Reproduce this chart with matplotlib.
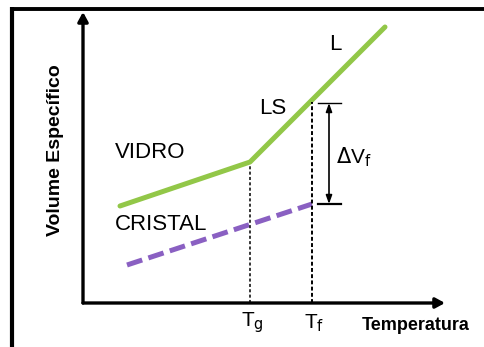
import numpy as np
import matplotlib
matplotlib.use("Agg")
import matplotlib.pyplot as plt

plt.rcParams['font.family'] = ['Liberation Sans', 'DejaVu Sans']

# Schematic specific volume vs temperature (arbitrary units)
T_vidro = [37, 167, 302]      # glass branch, kink at Tg, liquid beyond
V_vidro = [97, 141, 276]
T_cristal = [44, 229]         # crystal branch up to Tf
V_cristal = [38, 99]
Tg = 167
Tf = 229

green = '#92c748'
purple = '#8a60c2'

W, H = 485, 347
fig = plt.figure(figsize=(W / 100, H / 100), dpi=100)

# outer frame (top and left edges)
frame = fig.add_axes([0, 0, 1, 1])
frame.set_xlim(0, W)
frame.set_ylim(H, 0)
frame.axis('off')
frame.plot([12, W], [8.5, 8.5], color='black', lw=2.8, solid_capstyle='butt')
frame.plot([12, 12], [7, H], color='black', lw=3.0, solid_capstyle='butt')

# main axes: origin at pixel (83, 303), extends to (445, 12)
x0, y0, x1, y1 = 83, 303, 445, 12
ax = fig.add_axes([x0 / W, (H - y0) / H, (x1 - x0) / W, (y0 - y1) / H])
ax.set_xlim(0, x1 - x0)
ax.set_ylim(0, y0 - y1)
ax.axis('off')

# axis arrows
arrow_kw = dict(arrowstyle='-|>,head_length=0.55,head_width=0.3', color='black', lw=2.4,
                shrinkA=0, shrinkB=0)
ax.annotate('', xy=(1, 0), xycoords='axes fraction', xytext=(0, 0),
            textcoords='axes fraction', arrowprops=arrow_kw, annotation_clip=False)
ax.annotate('', xy=(0, 1), xycoords='axes fraction', xytext=(0, 0),
            textcoords='axes fraction', arrowprops=arrow_kw, annotation_clip=False)

# curves
ax.plot(T_vidro, V_vidro, color=green, lw=3.6, solid_capstyle='round', clip_on=False)
ax.plot(T_cristal, V_cristal, color=purple, lw=3.6, dashes=(3.2, 1.3), clip_on=False)

V_liq_Tf = np.interp(Tf, T_vidro, V_vidro)
V_glass_Tg = np.interp(Tg, T_vidro, V_vidro)

# dotted guides down to the temperature axis
ax.plot([Tg, Tg], [0, V_glass_Tg - 4], color='black', lw=1.1, ls=(0, (2, 1.5)))
ax.plot([Tf, Tf], [0, V_liq_Tf - 2], color='black', lw=1.4, ls=(0, (2, 1.2)))

# volume change on melting
xa = 246
ax.plot([xa - 11, xa + 12], [V_liq_Tf - 3, V_liq_Tf - 3], color='black', lw=1.0)
ax.plot([xa - 11, xa + 12], [V_cristal[-1], V_cristal[-1]], color='black', lw=1.6)
ax.annotate('', xy=(xa, V_liq_Tf - 3), xytext=(xa, V_cristal[-1]),
            arrowprops=dict(arrowstyle='<|-|>,head_length=0.5,head_width=0.18',
                            color='black', lw=1.2, shrinkA=0, shrinkB=0))

# labels
ax.text(252, 258, 'L', fontsize=16, ha='center', va='center')
ax.text(190, 195, 'LS', fontsize=16, ha='center', va='center')
ax.text(32, 150, 'VIDRO', fontsize=16, ha='left', va='center')
ax.text(32, 78, 'CRISTAL', fontsize=16, ha='left', va='center')
ax.text(253, 146, r'$\Delta$V$_{\rm f}$', fontsize=15, ha='left', va='center')
ax.text(Tg + 2, -20, r'T$_{\rm g}$', fontsize=15, ha='center', va='center', clip_on=False)
ax.text(Tf + 2, -20, r'T$_{\rm f}$', fontsize=15, ha='center', va='center', clip_on=False)

fig.text(416 / W, 1 - 325 / H, 'Temperatura', fontsize=13, fontweight='bold',
         ha='center', va='center')
fig.text(56 / W, 1 - 150 / H, 'Volume Específico', fontsize=14, fontweight='bold',
         ha='center', va='center', rotation=90)

fig.savefig('out.png', dpi=100, facecolor='white')
